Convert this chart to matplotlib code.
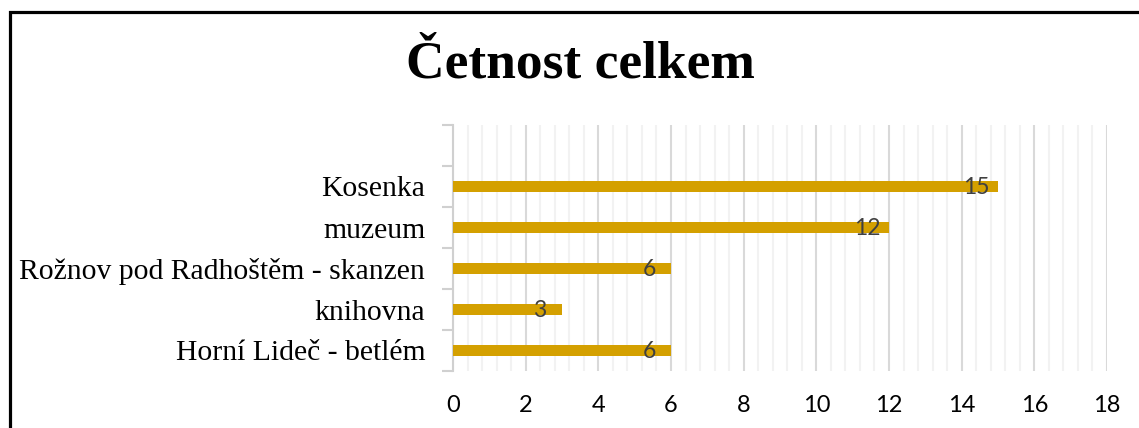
import matplotlib.pyplot as plt
from matplotlib.patches import Rectangle
from matplotlib.ticker import MultipleLocator

categories = ['Horní Lideč - betlém', 'knihovna', 'Rožnov pod Radhoštěm - skanzen', 'muzeum', 'Kosenka', '']
values = [6, 3, 6, 12, 15, None]
x_ticks = [0, 2, 4, 6, 8, 10, 12, 14, 16, 18]

bar_color = '#D4A000'

fig = plt.figure(figsize=(11.39, 4.28), dpi=100)
ax = fig.add_axes([453 / 1139, 1 - 371 / 428, (1107 - 453) / 1139, (371 - 125) / 428])

# black frame of the original (cut off on the right and bottom)
fig.patches.append(Rectangle((9.5 / 1139, -0.2), 1.2, 1 - 11.5 / 428 + 0.2,
                             transform=fig.transFigure, fill=False,
                             edgecolor='black', linewidth=2.3))

ypos = list(range(len(categories)))
for y, v in zip(ypos, values):
    if v is None:
        continue
    ax.barh(y, v, height=0.28, color=bar_color, zorder=3)
    ax.annotate(str(v), xy=(v, y), xytext=(-22, -1), textcoords='offset pixels',
                ha='center', va='center', fontsize=16.5, color='#404040',
                family='Lato', zorder=4)

ax.set_xlim(0, 18)
ax.set_ylim(-0.5, len(categories) - 0.5)
ax.set_xticks(x_ticks)
ax.set_xticklabels([str(t) for t in x_ticks], family='Lato', fontsize=17, color='black')
ax.xaxis.set_minor_locator(MultipleLocator(0.4))
ax.grid(axis='x', which='major', color='#d9d9d9', linewidth=1.5, zorder=0)
ax.grid(axis='x', which='minor', color='#f2f2f2', linewidth=1.5, zorder=0)
ax.tick_params(axis='x', which='both', length=0, pad=17)

ax.set_yticks([y - 0.5 for y in ypos] + [len(categories) - 0.5])
ax.set_yticklabels([])
ax.set_yticks(ypos, minor=True)
ax.set_yticklabels(categories, minor=True, family='Liberation Serif', fontsize=21.3, color='black')
ax.tick_params(axis='y', which='major', length=8, width=1.5, color='#d0d0d0', direction='out')
ax.tick_params(axis='y', which='minor', length=0, pad=20)

for s in ['top', 'right', 'bottom']:
    ax.spines[s].set_visible(False)
ax.spines['left'].set_color('#d0d0d0')
ax.spines['left'].set_linewidth(1.5)

fig.text(580 / 1139, 1 - 64 / 428, 'Četnost celkem', ha='center', va='center',
         family='Liberation Serif', fontweight='bold', fontsize=38.5)

fig.savefig('out.png', dpi=100)
